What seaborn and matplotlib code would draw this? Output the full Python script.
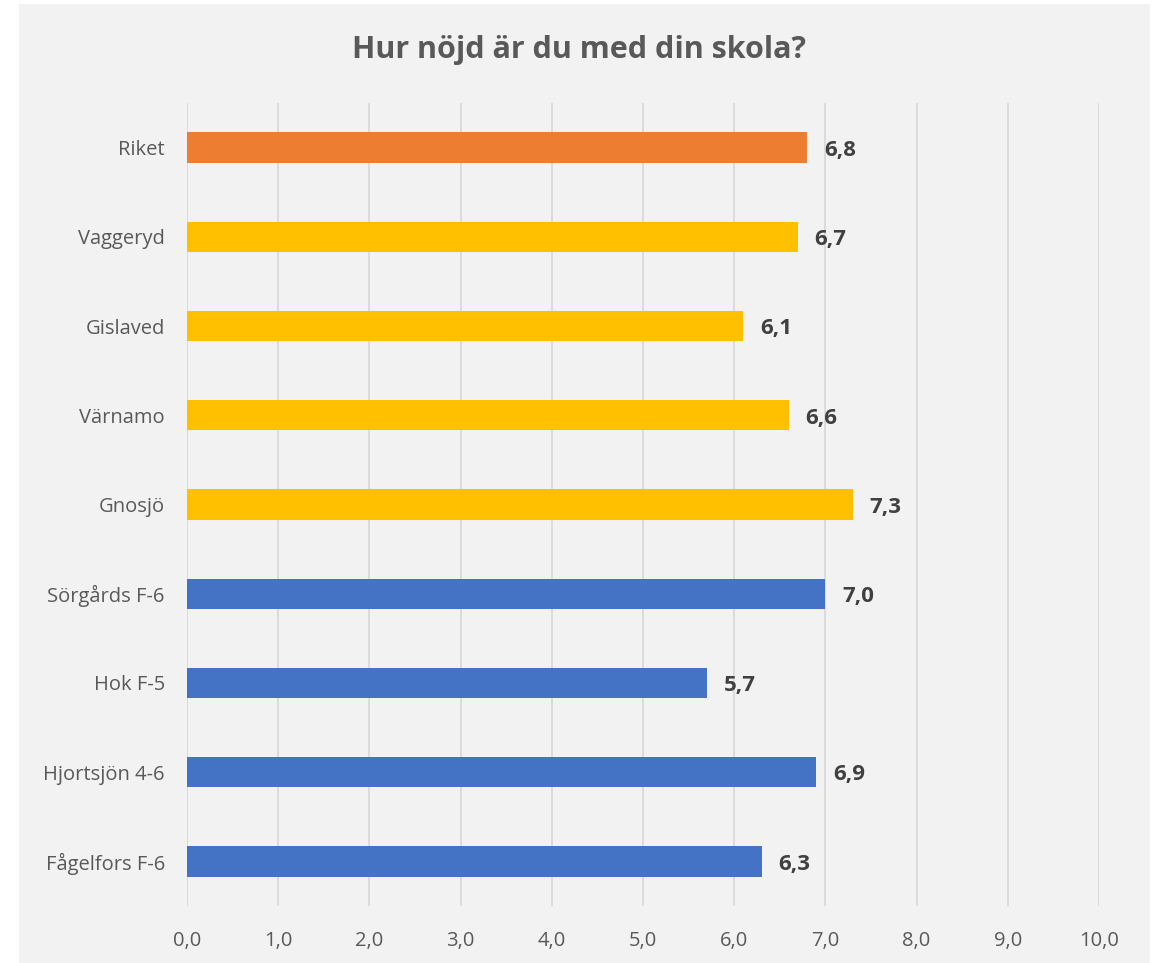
import matplotlib
matplotlib.use("Agg")
import matplotlib.pyplot as plt
import seaborn as sns
import pandas as pd
from matplotlib.patches import Rectangle

categories = ["Riket", "Vaggeryd", "Gislaved", "Värnamo", "Gnosjö",
              "Sörgårds F-6", "Hok F-5", "Hjortsjön 4-6", "Fågelfors F-6"]
values = [6.8, 6.7, 6.1, 6.6, 7.3, 7.0, 5.7, 6.9, 6.3]
groups = ["Riket", "Kommun", "Kommun", "Kommun", "Kommun",
          "Skola", "Skola", "Skola", "Skola"]
palette = {"Riket": "#ED7D31", "Kommun": "#FFC000", "Skola": "#4472C4"}
xticks = [0, 1, 2, 3, 4, 5, 6, 7, 8, 9, 10]

sns.set_theme(style="white")
plt.rcParams["font.family"] = ["Open Sans", "DejaVu Sans"]

df = pd.DataFrame({"cat": categories, "val": values, "grp": groups})

fig = plt.figure(figsize=(11.58, 9.63), dpi=100, facecolor="white")
fig.patches.append(Rectangle((19 / 1158, 0), (1150 - 19) / 1158, 1 - 4 / 963,
                             transform=fig.transFigure, facecolor="#F2F2F2",
                             edgecolor="none", zorder=-10))
ax = fig.add_axes([187 / 1158, 1 - 906 / 963, (1099 - 187) / 1158, (906 - 103) / 963])
ax.set_facecolor("none")

sns.barplot(data=df, y="cat", x="val", hue="grp", palette=palette, dodge=False,
            width=0.34, orient="h", ax=ax, legend=False, saturation=1,
            linewidth=0, zorder=3)

ax.set_xlim(0, 10)
ax.set_ylim(8.5, -0.5)
ax.set_xticks(xticks)
ax.set_xticklabels([f"{t:.1f}".replace(".", ",") for t in xticks])
ax.set_axisbelow(True)
ax.xaxis.grid(True, color="#D9D9D9", linewidth=1.3)
ax.yaxis.grid(False)
for s in ax.spines.values():
    s.set_visible(False)
ax.tick_params(axis="x", length=0, pad=18, labelsize=14.5, labelcolor="#595959")
ax.tick_params(axis="y", length=0, pad=16, labelsize=14.5, labelcolor="#595959")
ax.set_xlabel("")
ax.set_ylabel("")

for i, v in enumerate(values):
    ax.annotate(f"{v:.1f}".replace(".", ","), xy=(v, i), xytext=(12, -2),
                textcoords="offset points", va="center", ha="left",
                fontsize=16, fontweight="bold", color="#404040")

fig.text(0.5, 1 - 50 / 963, "Hur nöjd är du med din skola?", ha="center", va="center",
         fontsize=22, fontweight="bold", color="#595959")

fig.savefig("out.png", dpi=100, facecolor="white")
